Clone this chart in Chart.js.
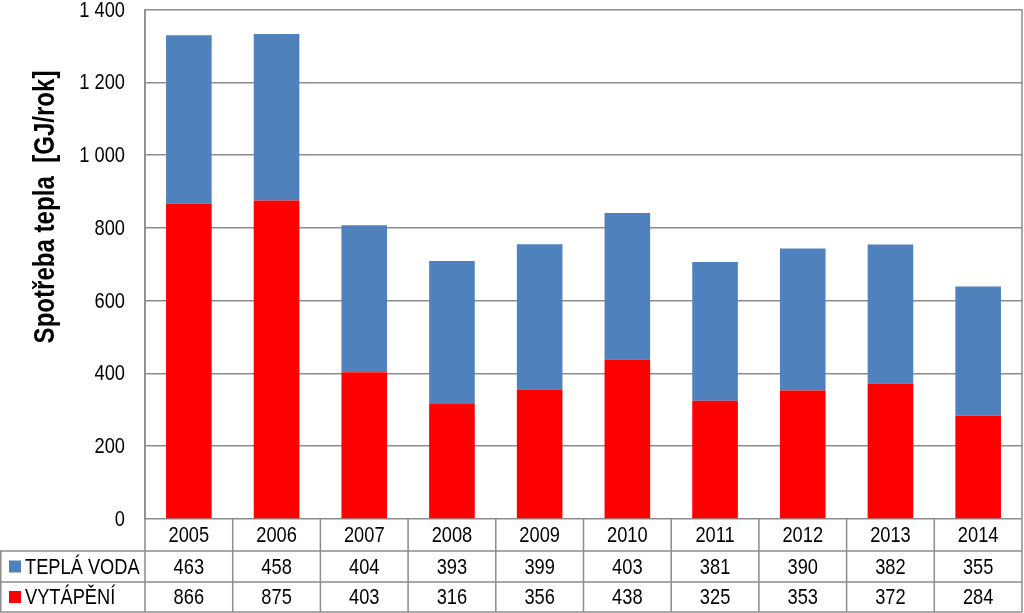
<!DOCTYPE html>
<html>
<head>
<meta charset="utf-8">
<script src="https://cdn.jsdelivr.net/npm/chart.js@4"></script>
<style>
  html, body { margin: 0; padding: 0; background: #fff; }
  #wrap { width: 1024px; height: 613px; position: relative; }
</style>
</head>
<body>
<div id="wrap"><canvas id="graf" width="1024" height="613"></canvas></div>
<script>
// Data z grafu
const roky = ['2005', '2006', '2007', '2008', '2009', '2010', '2011', '2012', '2013', '2014'];
const teplaVoda = [463, 458, 404, 393, 399, 403, 381, 390, 382, 355];
const vytapeni = [866, 875, 403, 316, 356, 438, 325, 353, 372, 284];
const yTicky = [0, 200, 400, 600, 800, 1000, 1200, 1400];

const MODRA = '#4F81BD';
const CERVENA = '#FF0000';
const SEDA = '#8C8C8C';
const FONT = '"Liberation Sans", Arial, sans-serif';
const UZKE = 0.83; // pismo v originale je zuzene (Arial Narrow)

const formatCislo = v => String(v).replace(/\B(?=(\d{3})+(?!\d))/g, ' ');

// text se zuzenim v ose x
function text(ctx, s, x, y, align) {
    ctx.save();
    ctx.translate(x, y);
    ctx.scale(UZKE, 1);
    ctx.textAlign = align;
    ctx.fillText(s, 0, 0);
    ctx.restore();
}

// Tabulka pod grafem, popisky osy Y a titulek osy
const tabulkaPlugin = {
    id: 'tabulka',
    afterDraw(chart) {
        const ctx = chart.ctx;
        const area = chart.chartArea;
        const x = chart.scales.x;
        const y = chart.scales.y;
        const n = roky.length;
        const sirka = (area.right - area.left) / n;
        const r0 = area.bottom, r1 = 551, r2 = 582, r3 = 612;

        ctx.save();
        ctx.strokeStyle = SEDA;
        ctx.lineWidth = 1.5;
        ctx.beginPath();
        // vodorovne cary
        ctx.moveTo(0, r1); ctx.lineTo(area.right, r1);
        ctx.moveTo(0, r2); ctx.lineTo(area.right, r2);
        ctx.moveTo(0, r3); ctx.lineTo(area.right, r3);
        // svisle cary
        ctx.moveTo(0.75, r1); ctx.lineTo(0.75, r3);
        for (let i = 0; i <= n; i++) {
            const px = area.left + i * sirka;
            ctx.moveTo(px, i === 0 || i === n ? area.top : r0);
            ctx.lineTo(px, r3);
        }
        ctx.stroke();

        ctx.fillStyle = '#000';
        ctx.font = '22px ' + FONT;
        ctx.textBaseline = 'middle';

        // popisky osy Y
        yTicky.forEach(v => text(ctx, formatCislo(v), 125, y.getPixelForValue(v) + 1, 'right'));

        roky.forEach((rok, i) => {
            const cx = x.getPixelForValue(i);
            text(ctx, rok, cx, (r0 + r1) / 2 + 1, 'center');
            text(ctx, String(teplaVoda[i]), cx, (r1 + r2) / 2 + 1, 'center');
            text(ctx, String(vytapeni[i]), cx, (r2 + r3) / 2 + 1, 'center');
        });

        // legenda v tabulce
        ctx.fillStyle = MODRA;
        ctx.fillRect(9, (r1 + r2) / 2 - 6, 12, 12);
        ctx.fillStyle = CERVENA;
        ctx.fillRect(9, (r2 + r3) / 2 - 6, 12, 12);
        ctx.fillStyle = '#000';
        text(ctx, 'TEPLÁ VODA', 25, (r1 + r2) / 2 + 1, 'left');
        text(ctx, 'VYTÁPĚNÍ', 25, (r2 + r3) / 2 + 1, 'left');

        // titulek osy Y
        ctx.translate(46, 207);
        ctx.rotate(-Math.PI / 2);
        ctx.font = 'bold 29px ' + FONT;
        text(ctx, 'Spotřeba tepla  [GJ/rok]', 0, 0, 'center');
        ctx.restore();
    }
};

new Chart(document.getElementById('graf'), {
    type: 'bar',
    data: {
        labels: roky,
        datasets: [
            {
                label: 'VYTÁPĚNÍ',
                data: vytapeni,
                backgroundColor: CERVENA,
                categoryPercentage: 1,
                barPercentage: 0.52
            },
            {
                label: 'TEPLÁ VODA',
                data: teplaVoda,
                backgroundColor: MODRA,
                categoryPercentage: 1,
                barPercentage: 0.52
            }
        ]
    },
    options: {
        responsive: false,
        animation: false,
        layout: { padding: { top: 9.5, right: 2, bottom: 94, left: 0 } },
        scales: {
            x: {
                stacked: true,
                display: false
            },
            y: {
                stacked: true,
                min: 0,
                max: 1400,
                afterBuildTicks: s => { s.ticks = yTicky.map(v => ({ value: v })); },
                afterFit: s => {
                    s.width = 145;
                    s.paddingTop = 0;
                    s.paddingBottom = 0;
                },
                border: { display: true, color: SEDA, width: 1.5 },
                grid: { color: SEDA, lineWidth: 1.5, drawTicks: false },
                ticks: { display: false }
            }
        },
        plugins: {
            legend: { display: false },
            tooltip: { enabled: false }
        }
    },
    plugins: [tabulkaPlugin]
});
</script>
</body>
</html>
